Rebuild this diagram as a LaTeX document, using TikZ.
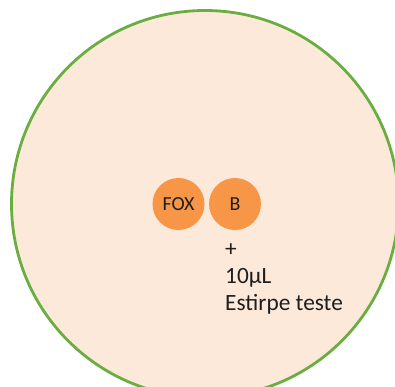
\documentclass[tikz,border=0pt]{standalone}
\usepackage{fontspec}
\setmainfont{Carlito}
\definecolor{dishfill}{HTML}{FDE9D9}
\definecolor{dishrim}{HTML}{6AAE42}
\definecolor{discfill}{HTML}{F79646}
\definecolor{inkdark}{HTML}{1E1E1E}
\begin{document}
\begin{tikzpicture}[x=1bp,y=-1bp,
  dish/.style={circle,fill=dishfill,draw=dishrim,line width=2.8bp,minimum size=387bp,inner sep=0pt},
  disc/.style={circle,fill=discfill,draw=none,minimum size=52bp,inner sep=0pt,
    text=inkdark,font=\fontsize{20}{24}\selectfont},
  note/.style={anchor=base west,inner sep=0pt,text=inkdark,font=\fontsize{23.4}{28}\selectfont}]
  \useasboundingbox (0,0) rectangle (395,387);
  \clip (0,0) rectangle (395,387);
  % Petri dish
  \node[dish] (plate) at (205,204) {};
  % antibiotic discs
  \node[disc] (fox) at (178.5,204) {\raisebox{-0.5bp}{FOX}};
  \node[disc] (b) at (235,204) {\raisebox{-0.5bp}{B}};
  % inoculum note
  \node[note] (plus) at (225,256) {+};
  \node[note] (vol) at (225,283) {10µL};
  \node[note] (strain) at (225,310.5) {Estirpe teste};
\end{tikzpicture}
\end{document}
